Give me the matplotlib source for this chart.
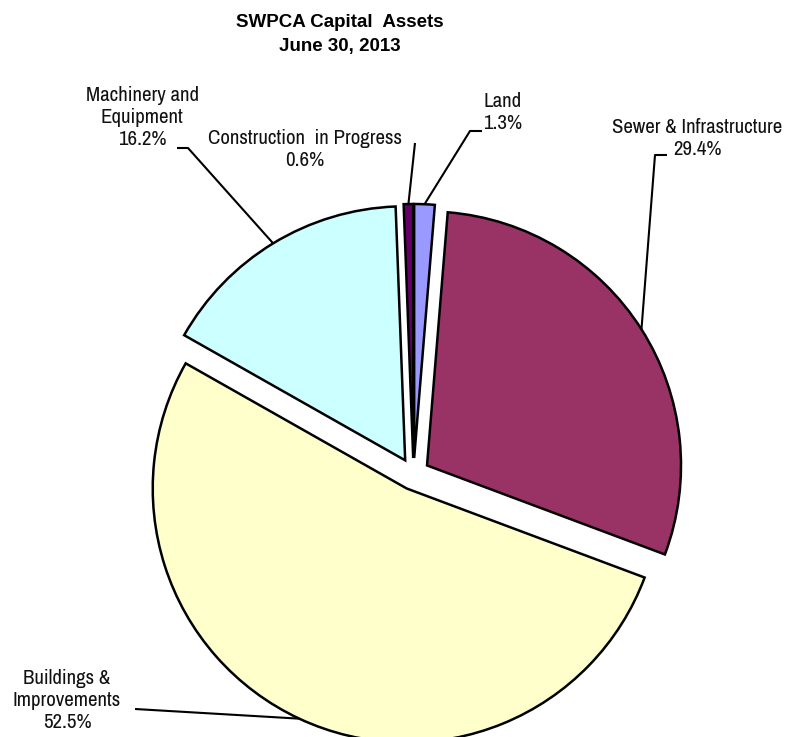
import matplotlib
matplotlib.use('Agg')
import matplotlib.pyplot as plt
import numpy as np

categories = ['Land', 'Sewer & Infrastructure', 'Buildings & Improvements',
              'Machinery and Equipment', 'Construction in Progress']
label_texts = ['Land\n1.3%', 'Sewer & Infrastructure\n29.4%',
               'Buildings &\nImprovements\n52.5%', 'Machinery and\nEquipment\n16.2%',
               'Construction  in Progress\n0.6%']
values = [1.3, 29.4, 52.5, 16.2, 0.6]
colors = ['#9999FF', '#993366', '#FFFFCC', '#CCFFFF', '#660066']
title_lines = ['SWPCA Capital  Assets', 'June 30, 2013']

FONT = ['Archivo Narrow', 'Liberation Sans', 'DejaVu Sans']
TFONT = ['Liberation Sans', 'DejaVu Sans']
W, H = 790, 737
fig = plt.figure(figsize=(7.9, 7.37), dpi=100)
ax = fig.add_axes([0, 0, 1, 1])
R = 254
C = (413.5, H - 474)
wedges, _ = ax.pie(values, colors=colors, startangle=90, counterclock=False,
                   radius=R, center=C, explode=[16] * len(values),
                   wedgeprops=dict(edgecolor='black', linewidth=1.8))
ax.set_aspect('auto')
ax.set_xlim(0, W)
ax.set_ylim(0, H)
ax.axis('off')

def iy(y):
    return H - y

# label layout: (text center x, text center y, leader points after arc point) in image px
layout = [
    (503, 112, [(470, 131), (482, 131)]),
    (697, 138, [(655, 155), (667, 155)]),
    (67, 701, [(135, 709)]),
    (142, 117, [(188, 148), (177, 148)]),
    (305, 149, [(415, 143)]),
]

for w, txt, (tx, ty, pts) in zip(wedges, label_texts, layout):
    th = np.deg2rad(0.5 * (w.theta1 + w.theta2))
    cx, cy = w.center
    ax_, ay_ = cx + w.r * np.cos(th), cy + w.r * np.sin(th)
    xs = [ax_] + [p[0] for p in pts]
    ys = [ay_] + [iy(p[1]) for p in pts]
    ax.plot(xs, ys, color='black', lw=1.5, solid_capstyle='butt')
    ax.text(tx, iy(ty), txt, ha='center', va='center', fontsize=15,
            family=FONT, linespacing=1.2, color='#111111')

ax.text(340, iy(22), title_lines[0], ha='center', va='center', fontsize=13.5,
        fontweight='bold', family=TFONT)
ax.text(340, iy(46), title_lines[1], ha='center', va='center', fontsize=13.5,
        fontweight='bold', family=TFONT)

fig.savefig('out.png', dpi=100)
